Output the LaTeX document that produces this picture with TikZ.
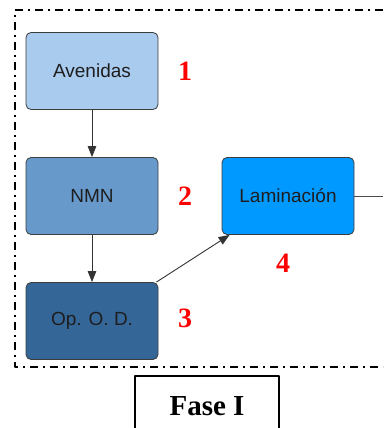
\documentclass[tikz,border=0pt]{standalone}
\usepackage{fontspec}
\setmainfont{Liberation Serif}
\setsansfont{Liberation Sans}
\usetikzlibrary{arrows.meta}
\definecolor{avenidas}{HTML}{A9CBEE}
\definecolor{nmn}{HTML}{6799CB}
\definecolor{opod}{HTML}{346698}
\definecolor{laminacion}{HTML}{0099FF}
\definecolor{boxline}{HTML}{3C3C3C}
\definecolor{boxtext}{HTML}{1E1E1E}

\begin{document}
\begin{tikzpicture}[
  x=1pt, y=-1pt,
  line join=round,
  stage/.style={draw=boxline, line width=0.8pt, rounded corners=5pt,
    minimum width=132pt, minimum height=77pt, inner sep=0pt,
    font=\sffamily\fontsize{19}{19}\selectfont, text=boxtext},
  tag/.style={text=red, font=\bfseries\fontsize{28}{28}\selectfont, inner sep=0pt},
  flow/.style={draw=black!80, line width=0.9pt, -{Triangle[length=11pt,width=8.5pt]}},
  frame/.style={line width=2pt, dash pattern=on 8pt off 5pt on 2pt off 5pt},
  phase/.style={draw, line width=1.6pt, minimum width=144pt, minimum height=60pt,
    font=\bfseries\fontsize{29}{29}\selectfont},
]
\useasboundingbox (0,0) rectangle (383,428);
\draw[frame] (383,10) -- (15,10) -- (15,367) -- (383,367);
\node[stage, fill=avenidas] (avenidas) at (92,71) {Avenidas};
\node[stage, fill=nmn] (nmn) at (92,196) {NMN};
\node[stage, fill=opod] (opod) at (92,321) {Op. O. D.};
\node[stage, fill=laminacion] (laminacion) at (288,196) {Laminación};
\node[tag] (tag1) at (185,71) {1};
\node[tag] (tag2) at (185,196) {2};
\node[tag] (tag3) at (185,318) {3};
\node[tag] (tag4) at (283,263) {4};
\node[phase] (fase) at (207,406) {Fase I};
\coordinate (exit) at (383,196);
\draw[flow] (avenidas) -- (nmn);
\draw[flow] (nmn) -- (opod);
\draw[flow] ([xshift=-2pt]opod.north east) -- ([xshift=8pt]laminacion.south west);
\draw[draw=black!70, line width=0.9pt] (laminacion.east) -- (exit);
\end{tikzpicture}
\end{document}
